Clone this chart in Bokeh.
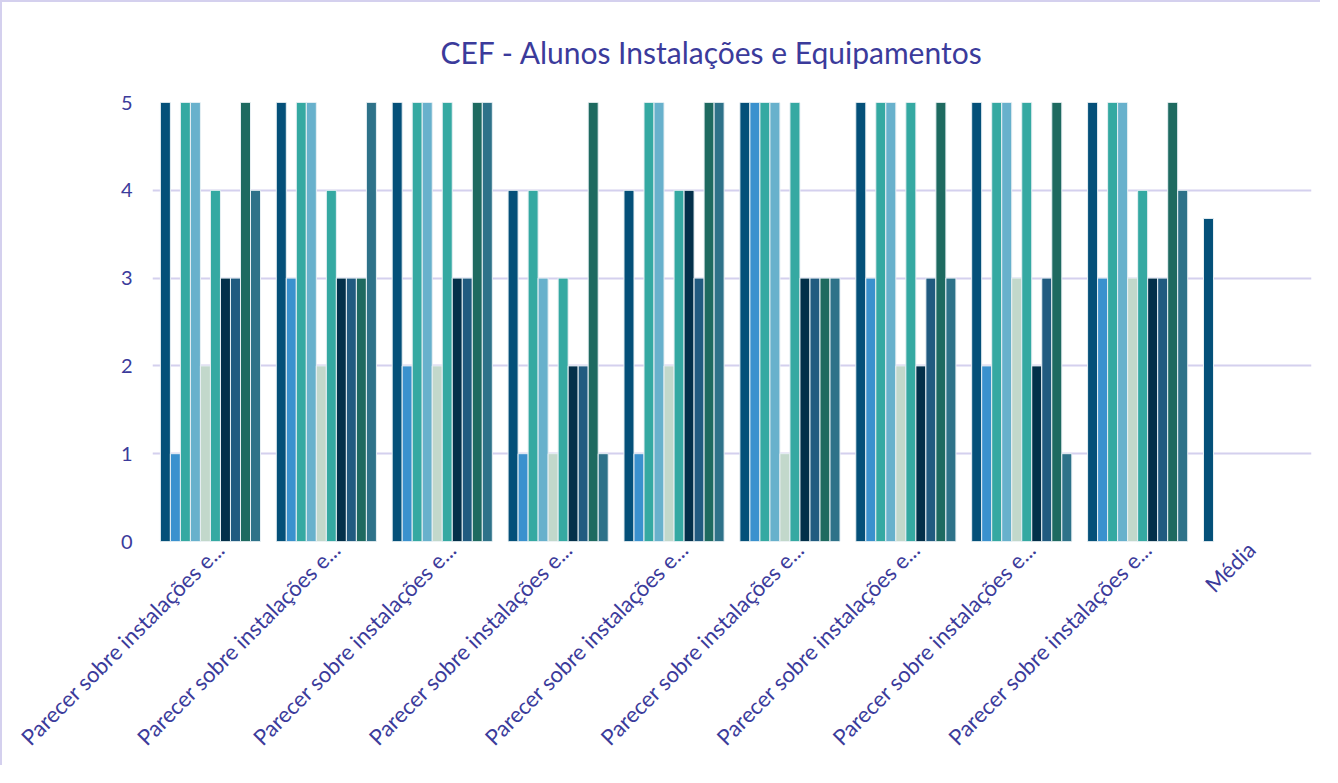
import numpy as np
from bokeh.plotting import figure
from bokeh.models import ColumnDataSource, FixedTicker, Range1d, Title
from bokeh.embed import file_html
from bokeh.resources import INLINE

categories = ["Parecer sobre instalações e..."] * 9 + ["Média"]

s1 = [5, 5, 5, 4, 4, 5, 5, 5, 5, 3.68]
s2 = [1, 3, 2, 1, 1, 5, 3, 2, 3, None]
s3 = [5, 5, 5, 4, 5, 5, 5, 5, 5, None]
s4 = [5, 5, 5, 3, 5, 5, 5, 5, 5, None]
s5 = [2, 2, 2, 1, 2, 1, 2, 3, 3, None]
s6 = [4, 4, 5, 3, 4, 5, 5, 5, 4, None]
s7 = [3, 3, 3, 2, 4, 3, 2, 2, 3, None]
s8 = [3, 3, 3, 2, 3, 3, 3, 3, 3, None]
s9 = [5, 3, 5, 5, 5, 3, 5, 5, 5, None]
s10 = [4, 5, 5, 1, 5, 3, 3, 1, 4, None]
series = [s1, s2, s3, s4, s5, s6, s7, s8, s9, s10]
colors = ["#045079", "#3a91ce", "#35a9a2", "#68b1cc", "#c2d8cb",
          "#35a9a2", "#03304a", "#215b80", "#1e6a60", "#2e7289"]
y_ticks = [0, 1, 2, 3, 4, 5]

TEXT = "#3b3b9b"
GRID = "#d4d0ee"
FONT = "Lato"

n = len(categories)
slot = 10 / 115.75  # one bar slot as a fraction of a category

p = figure(width=1320, height=765, output_backend="svg", toolbar_location=None,
           x_range=Range1d(0, n), y_range=Range1d(0, 5),
           min_border_left=150, min_border_right=11, min_border_top=100,
           min_border_bottom=226)
p.styles = {"border-left": f"2px solid {GRID}", "border-top": f"2px solid {GRID}"}
p.outline_line_color = None

for j, (vals, c) in enumerate(zip(series, colors)):
    xs = [i + 0.5 + (j - 4.5) * slot for i in range(n)]
    tops = [np.nan if v is None else v for v in vals]
    src = ColumnDataSource(dict(x=xs, top=tops))
    p.vbar(x="x", top="top", bottom=0, width=slot, source=src,
           fill_color=c, line_color="#e8f0f4", line_width=1)

# title
p.add_layout(Title(text="CEF - Alunos Instalações e Equipamentos", align="left",
                   offset=288, text_font=FONT, text_font_size="30px",
                   text_font_style="normal", text_color=TEXT, standoff=62,
                   vertical_align="top"), "above")

# x axis
shifts = [0.085] * 9 + [-0.02]
ticks = [round(i + 0.5 + s, 3) for i, s in enumerate(shifts)]
p.xaxis.ticker = FixedTicker(ticks=ticks)
p.xaxis.major_label_overrides = {t: lab for t, lab in zip(ticks, categories)}
p.xaxis.major_label_orientation = np.pi / 4
p.xaxis.axis_line_color = None
p.xaxis.major_tick_line_color = None
p.xaxis.minor_tick_line_color = None
p.xaxis.major_tick_out = 0
p.xaxis.major_label_standoff = 4
p.xaxis.major_label_text_font = FONT
p.xaxis.major_label_text_font_size = "22px"
p.xaxis.major_label_text_color = TEXT
p.xgrid.grid_line_color = None

# y axis
p.yaxis.ticker = FixedTicker(ticks=y_ticks)
p.yaxis.axis_line_color = None
p.yaxis.major_tick_line_color = None
p.yaxis.minor_tick_line_color = None
p.yaxis.major_tick_out = 0
p.yaxis.major_label_standoff = 20
p.yaxis.major_label_text_font = FONT
p.yaxis.major_label_text_font_size = "20px"
p.yaxis.major_label_text_color = TEXT
p.ygrid.grid_line_color = GRID
p.ygrid.grid_line_width = 2

open("out.html", "w").write(file_html(p, INLINE))
